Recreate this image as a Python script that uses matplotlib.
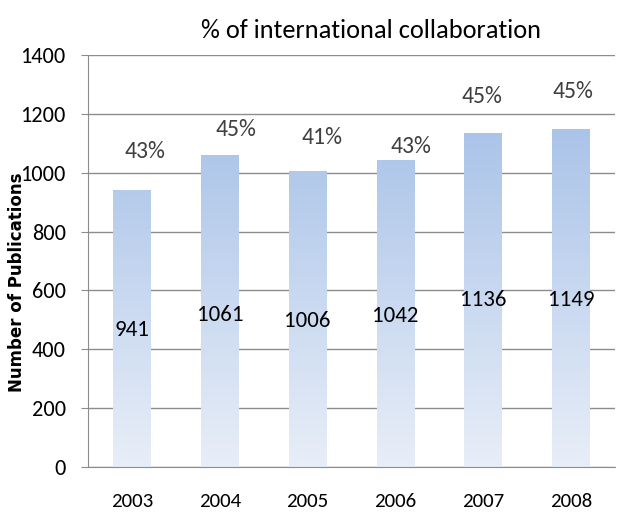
import numpy as np
import matplotlib.pyplot as plt
from matplotlib.colors import LinearSegmentedColormap

years = ['2003', '2004', '2005', '2006', '2007', '2008']
publications = [941, 1061, 1006, 1042, 1136, 1149]
collab_pct = ['43%', '45%', '41%', '43%', '45%', '45%']

# where the labels sit (data coords)
pct_x = [0.15, 0.18, 0.17, 0.18, -0.01, 0.02]
pct_y = [1071, 1146, 1119, 1088, 1258, 1275]
count_y = [466, 517, 497, 514, 568, 568]

plt.rcParams['font.family'] = ['Carlito', 'DejaVu Sans']

fig = plt.figure(figsize=(6.18, 5.13), dpi=100)
ax = fig.add_axes([0.1424, 0.0897, 0.853, 0.8031])

x = np.arange(len(years))
width = 0.43
ax.set_xlim(-0.5, 5.5)
ax.set_ylim(0, 1400)

# vertical fade inside each bar
cmap = LinearSegmentedColormap.from_list('bluefade', ['#e8eef8', '#9cbae5'])
grad = np.linspace(0, 1, 256).reshape(-1, 1)
bars = ax.bar(x, publications, width=width, color='none', zorder=2)
for b in bars:
    im = ax.imshow(grad, cmap=cmap, origin='lower', aspect='auto',
                   extent=[b.get_x(), b.get_x() + b.get_width(), 0, 1400],
                   zorder=2)
    im.set_clip_path(b)

ax.set_yticks(range(0, 1401, 200))
ax.grid(axis='y', color='#8c8c8c', linewidth=1.0, zorder=1)
ax.set_axisbelow(True)
for s in ['top', 'right']:
    ax.spines[s].set_visible(False)
ax.spines['left'].set_color('#8c8c8c')
ax.spines['bottom'].set_color('#8c8c8c')
ax.tick_params(axis='y', length=5, color='#8c8c8c', labelsize=16, pad=11)
ax.tick_params(axis='x', length=0, labelsize=15, pad=19)
ax.set_xticks(x)
ax.set_xticklabels(years)

for i in range(len(years)):
    ax.text(x[i] + pct_x[i], pct_y[i], collab_pct[i], ha='center', va='center',
            fontsize=17, color='#404040', zorder=3)
    ax.text(x[i], count_y[i], str(publications[i]), ha='center', va='center',
            fontsize=16.5, color='black', zorder=3)

fig.text(0.028, 0.45, 'Number of Publications', rotation=90, ha='center',
         va='center', fontsize=12, fontweight='bold', family='DejaVu Sans')
fig.text(0.6, 0.94, '% of international collaboration', ha='center',
         va='center', fontsize=19)

fig.savefig('out.png', dpi=100)
